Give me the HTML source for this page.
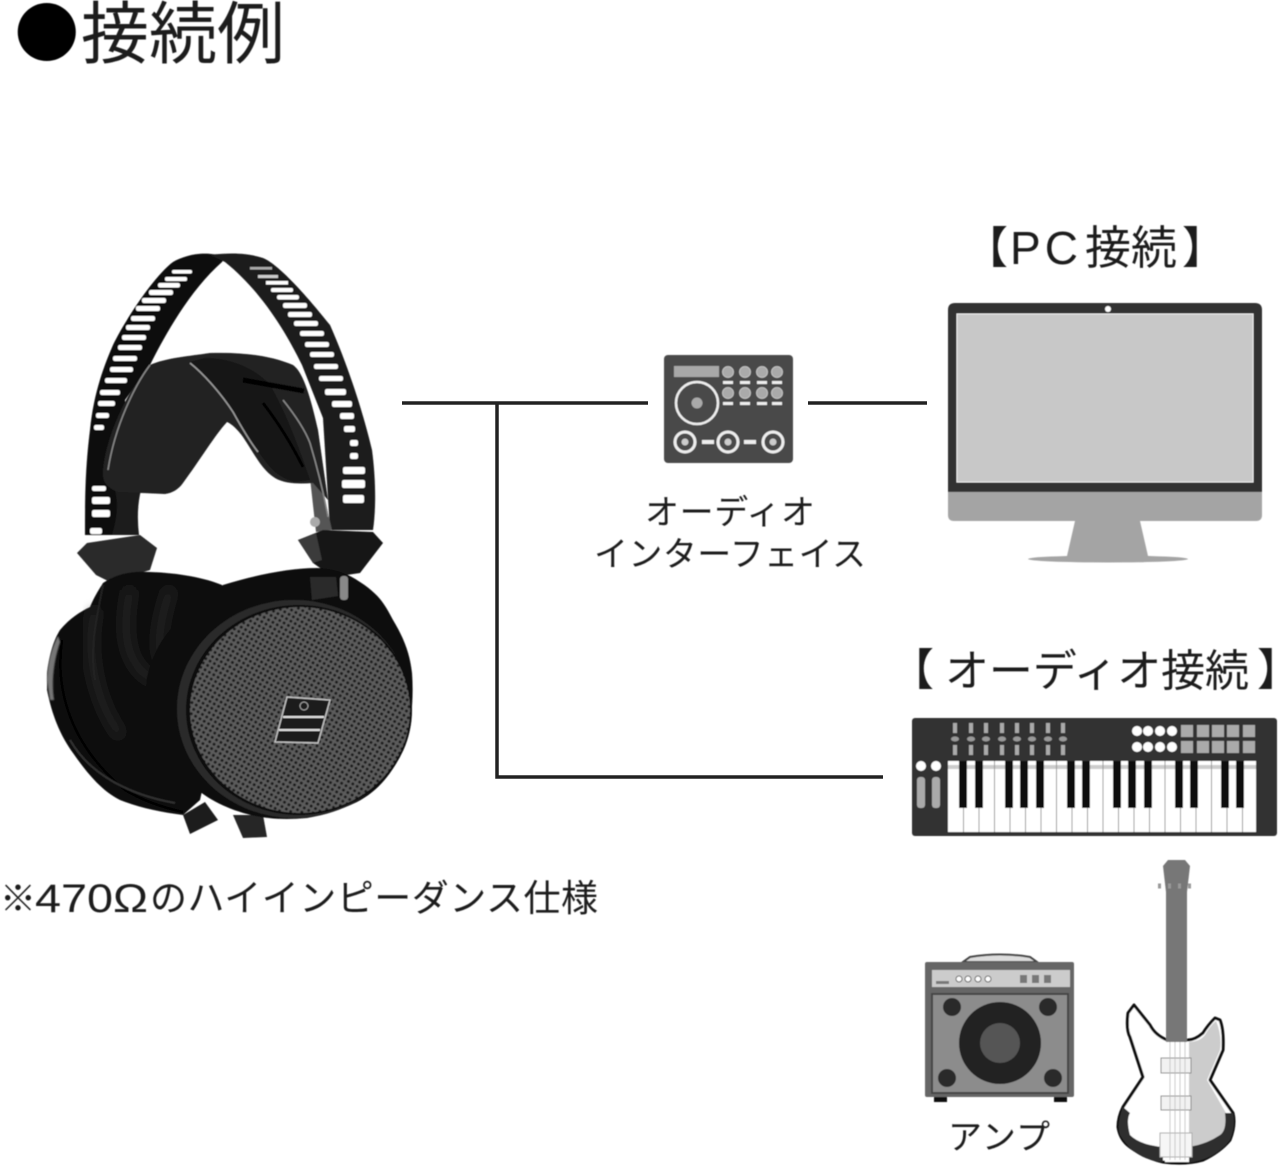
<!DOCTYPE html>
<html lang="ja"><head><meta charset="utf-8"><title>接続例</title>
<style>html,body{margin:0;padding:0;background:#fff}svg{display:block}text{font-family:"Liberation Sans","Noto Sans CJK JP",sans-serif;fill:#1e1e1e}.j{font-family:"Noto Sans CJK JP",sans-serif}</style></head>
<body>
<svg width="1280" height="1167" viewBox="0 0 1280 1167" xmlns="http://www.w3.org/2000/svg">
<defs>
<pattern id="g" width="5" height="5" patternUnits="userSpaceOnUse" patternTransform="rotate(30)"><rect width="5" height="5" fill="#5c5c5c"/><circle cx="2.500" cy="2.500" r="1.500" fill="#1c1c1c"/></pattern>
<filter id="b"><feGaussianBlur stdDeviation="0.6"/></filter>
<filter id="t"><feGaussianBlur stdDeviation="0.45"/></filter>
<filter id="s"><feGaussianBlur stdDeviation="5"/></filter>
</defs>

<g filter="url(#t)">
<text class="j" x="14.500" y="57" font-size="64.500" style="fill:#000">●</text>
<text class="j" x="81" y="58" font-size="68">接続例</text>
<text class="j" x="964" y="263" font-size="44">【</text>
<text x="1010" y="264" font-size="46" textLength="68">PC</text>
<text class="j" x="1085" y="264" font-size="46">接続</text>
<text class="j" x="1182" y="263" font-size="44">】</text>
<text class="j" x="890" y="685" font-size="44">【</text>
<text class="j" x="945" y="686" font-size="44" textLength="304">オーディオ接続</text>
<text class="j" x="1257" y="685" font-size="44">】</text>
<text class="j" x="645" y="524" font-size="34" textLength="170">オーディオ</text>
<text class="j" x="594" y="566" font-size="34" textLength="272">インターフェイス</text>
<text class="j" x="0" y="911" font-size="36">※</text>
<text x="35" y="912" font-size="40" textLength="113" lengthAdjust="spacingAndGlyphs">470Ω</text>
<text class="j" x="150" y="911" font-size="37" textLength="448">のハイインピーダンス仕様</text>
<text class="j" x="948" y="1149" font-size="34" textLength="102">アンプ</text>
</g>

<path d="M402 403H648M808 403H927M497 403V777H883" fill="none" stroke="#222" stroke-width="3.500"/>

<!-- headphones -->
<g filter="url(#b)">
<!-- band -->
<path d="M225 257C205 250 185 255 173 262C155 275 125 320 113 345C100 375 93 400 90 430C85 470 85 500 85 535L125 535L125 400L150 365C165 335 190 290 222 262Z" fill="#0c0c0c"/>
<path d="M210 255C235 252 250 254 263 258C280 265 310 300 330 325C350 370 365 420 372 450C376 480 376 510 373 530L330 530L323 418L302 365C285 330 260 290 225 262Z" fill="#1a1a1a"/>
<g fill="#fff">
<rect x="172" y="270" width="20" height="3.500" rx="1.500"/><rect x="165" y="277" width="22" height="4" rx="1.500"/><rect x="158" y="283" width="22" height="4.500" rx="2"/>
<rect x="149" y="290" width="24" height="5" rx="2"/><rect x="142" y="298" width="24" height="5" rx="2"/><rect x="136" y="306" width="24" height="5" rx="2"/>
<rect x="131" y="316" width="24" height="5" rx="2"/><rect x="126" y="325" width="24" height="5" rx="2"/><rect x="122" y="335" width="24" height="5" rx="2"/>
<rect x="118" y="345" width="24" height="5" rx="2"/><rect x="113" y="356" width="24" height="5" rx="2"/><rect x="110" y="367" width="23" height="5" rx="2"/>
<rect x="105" y="378" width="22" height="5" rx="2"/><rect x="100" y="390" width="20" height="5" rx="2"/><rect x="98" y="401" width="17" height="5" rx="2"/><rect x="96" y="413" width="13" height="5" rx="2"/><rect x="94" y="425" width="10" height="5" rx="2"/>
<rect x="92" y="486" width="14" height="5" rx="2"/><rect x="92" y="497" width="18" height="7" rx="2"/><rect x="92" y="510" width="18" height="7" rx="2"/><rect x="90" y="528" width="12" height="6" rx="2"/>
<rect x="250" y="267" width="22" height="2.500" fill="#aaa"/><rect x="258" y="275" width="20" height="3" fill="#ccc"/><rect x="266" y="281" width="22" height="3.500"/>
<rect x="271" y="288" width="22" height="4" rx="1.500"/><rect x="277" y="295" width="22" height="4.500" rx="2"/><rect x="283" y="303" width="24" height="5" rx="2"/>
<rect x="288" y="312" width="24" height="5" rx="2"/><rect x="294" y="321" width="24" height="5" rx="2"/><rect x="300" y="331" width="24" height="5" rx="2"/>
<rect x="305" y="342" width="24" height="5" rx="2"/><rect x="310" y="352" width="24" height="5" rx="2"/><rect x="314" y="364" width="24" height="5" rx="2"/>
<rect x="319" y="376" width="24" height="5" rx="2"/><rect x="325" y="389" width="21" height="6" rx="2"/><rect x="332" y="401" width="20" height="6" rx="2"/>
<rect x="340" y="413" width="14" height="6" rx="2"/><rect x="344" y="426" width="11" height="6" rx="2"/><rect x="350" y="440" width="8" height="6" rx="2"/><rect x="350" y="453" width="8" height="6" rx="2"/>
<rect x="343" y="467" width="22" height="7" rx="2"/><rect x="342" y="480" width="23" height="8" rx="2"/><rect x="343" y="495" width="21" height="8" rx="2"/>
</g>
<!-- thin right strut -->
<path d="M310 478L320 478L332 530L316 532Z" fill="#555"/>
<circle cx="315" cy="522" r="5" fill="#aaa"/>
<!-- stem -->
<path d="M115 490L141 490Q136 510 139 535L112 535Q120 510 115 490Z" fill="#1c1c1c"/>
<!-- pad -->
<path d="M150 365C165 358 190 356 210 353C240 352 270 355 293 365C303 372 310 395 318 430L328 500L313 483C300 484 285 484 275 478C262 470 255 455 243 437C238 430 232 424 227 422C215 435 200 460 183 483C178 490 172 493 165 494L118 492C105 487 102 480 103 470C105 445 120 400 150 365Z" fill="#212121"/>
<path d="M190 362C205 375 220 392 233 412C245 430 255 448 266 462C272 470 280 478 295 482L310 480C300 450 285 410 270 385C255 368 230 358 205 358Z" fill="#161616"/>
<path d="M190 363C205 375 222 395 233 412C243 430 250 442 258 452" fill="none" stroke="#999" stroke-width="1.600"/>
<path d="M150 365C135 385 115 425 108 470" fill="none" stroke="#888" stroke-width="1.500"/>
<path d="M283 400C295 415 305 430 310 443C318 470 324 495 328 517" fill="none" stroke="#888" stroke-width="1.500"/>
<path d="M263 403C280 425 293 447 303 467" fill="none" stroke="#000" stroke-width="3"/>
<path d="M243 380L304 391" stroke="#000" stroke-width="5"/>
<!-- hinges -->
<polygon points="77,553 87,543 140,535 157,548 150,570 110,582 96,575" fill="#2a2a2a"/>
<polygon points="298,540 323,530 373,532 383,543 360,573 333,577 313,563" fill="#161616"/>
<polygon points="298,540 316,533 322,560 313,563" fill="#3a3a3a"/>
<!-- left pad -->
<path d="M47 673C50 650 55 638 60 630C70 618 80 612 90 607C95 595 100 588 103 583C120 572 135 571 150 572C180 573 205 578 222 585L235 640L200 800L183 815C160 812 140 808 120 800C100 790 85 770 73 753C60 735 52 715 47 690Z" fill="#0f0f0f"/>
<path d="M47 680C48 660 52 648 58 636L60 642C54 660 51 680 54 700L50 700Z" fill="#777" filter="url(#t)"/>
<path d="M62 640C55 690 70 745 125 790C145 802 165 808 183 812" fill="none" stroke="#000" stroke-width="2.500"/>
<path d="M70 740C90 775 130 795 175 803" fill="none" stroke="#333" stroke-width="2"/>
<g filter="url(#s)" fill="none" stroke="#2a2a2a" stroke-width="7">
<path d="M95 610C85 650 95 700 120 735"/><path d="M130 590C120 640 130 670 155 680"/><path d="M170 590C160 620 155 650 165 665"/>
</g>
<path d="M103 585C95 625 90 650 95 680" fill="none" stroke="#242424" stroke-width="2"/>
<!-- plugs -->
<polygon points="183,815 205,802 218,820 190,834" fill="#1e1e1e"/>
<polygon points="233,815 263,815 267,837 243,838" fill="#262626"/>
<!-- right housing -->
<path d="M223 585C255 575 290 568 317 568C335 568 350 575 360 582C380 595 385 605 393 620C405 640 410 655 412 673C414 700 411 725 405 745C395 770 380 790 357 802C340 810 325 815 307 818C285 820 265 819 247 814C225 808 205 798 190 783C170 762 160 748 153 730C147 710 145 695 147 677C153 655 160 640 173 627C190 610 205 595 223 585Z" fill="#0c0c0c"/>
<path d="M310 577L336 577L338 596L312 600Z" fill="#2a2a2a"/>
<rect x="340" y="576" width="8" height="24" rx="3" fill="#888"/>
<ellipse cx="294" cy="709" rx="117" ry="109" fill="#2a2a2a"/>
<ellipse cx="299" cy="710" rx="113" ry="105" fill="#080808"/>
<ellipse cx="300" cy="710" rx="110" ry="103" fill="url(#g)"/>
<polygon points="287,697 330,700 318,743 275,742" fill="#1a1a1a" stroke="#c4c4c4" stroke-width="1.400"/>
<path d="M283 717H324M279 730H320" stroke="#e0e0e0" stroke-width="2"/>
<circle cx="304" cy="706" r="4" fill="none" stroke="#aaa" stroke-width="1"/>
</g>

<!-- interface -->
<g filter="url(#b)">
<rect x="664" y="355" width="129" height="108" rx="4" fill="#4a4a4a"/>
<rect x="674" y="366" width="45" height="11" fill="#a8a8a8"/>
<g fill="#aaa" stroke="#ccc" stroke-width=".8">
<circle cx="728" cy="372" r="5.500"/><circle cx="745" cy="372" r="5.500"/><circle cx="762" cy="372" r="5.500"/><circle cx="777" cy="372" r="5.500"/>
<circle cx="728" cy="393" r="5.500"/><circle cx="745" cy="393" r="5.500"/><circle cx="762" cy="393" r="5.500"/><circle cx="777" cy="393" r="5.500"/>
</g>
<g fill="#eee">
<rect x="723" y="381" width="10" height="3"/><rect x="740" y="381" width="10" height="3"/><rect x="757" y="381" width="10" height="3"/><rect x="772" y="381" width="10" height="3"/>
<rect x="723" y="402" width="10" height="3"/><rect x="740" y="402" width="10" height="3"/><rect x="757" y="402" width="10" height="3"/><rect x="772" y="402" width="10" height="3"/>
<rect x="702" y="440" width="12" height="4"/><rect x="744" y="440" width="12" height="4"/>
</g>
<circle cx="697" cy="403" r="21" fill="#4a4a4a" stroke="#eee" stroke-width="2.500"/>
<circle cx="697" cy="403" r="5.500" fill="#aaa"/>
<g fill="#4a4a4a" stroke="#eee" stroke-width="3">
<circle cx="685" cy="442" r="10"/><circle cx="728" cy="442" r="10"/><circle cx="773" cy="442" r="10"/>
</g>
<g fill="#ccc"><circle cx="685" cy="442" r="3.500"/><circle cx="728" cy="442" r="3.500"/><circle cx="773" cy="442" r="3.500"/></g>
</g>

<!-- monitor -->
<g filter="url(#b)">
<path d="M948 310q0-7 7-7h300q7 0 7 7v182h-314z" fill="#333"/>
<rect x="957" y="314" width="296" height="168" fill="#c8c8c8" stroke="#eee" stroke-width="1"/>
<circle cx="1108" cy="309" r="3" fill="#fff"/>
<path d="M948 492h314v23q0 6-6 6h-302q-6 0-6-6z" fill="#a4a4a4"/>
<polygon points="1075,521 1140,521 1148,556 1067,556" fill="#a4a4a4"/>
<ellipse cx="1108" cy="559" rx="80" ry="3.500" fill="#a4a4a4"/>
</g>

<!-- keyboard -->
<g filter="url(#b)">
<rect x="912" y="718" width="365" height="118" rx="3" fill="#333"/>
<rect x="948" y="761" width="308" height="71" fill="#fff"/>
<path d="M948 767H1256" stroke="#ccc" stroke-width="4"/>
<path d="M963.500 761V832M979 761V832M994.500 761V832M1010 761V832M1025.500 761V832M1041 761V832M1056.500 761V832M1072 761V832M1087.500 761V832M1103 761V832M1118.500 761V832M1134 761V832M1149.500 761V832M1165 761V832M1180.500 761V832M1196 761V832M1211.500 761V832M1227 761V832M1242.500 761V832" stroke="#999" stroke-width="1"/>
<g fill="#111">
<rect x="959" y="761" width="8" height="47"/><rect x="975" y="761" width="8" height="47"/>
<rect x="1005" y="761" width="8" height="47"/><rect x="1020" y="761" width="8" height="47"/><rect x="1036" y="761" width="8" height="47"/>
<rect x="1067" y="761" width="8" height="47"/><rect x="1082" y="761" width="8" height="47"/>
<rect x="1113" y="761" width="8" height="47"/><rect x="1128" y="761" width="8" height="47"/><rect x="1144" y="761" width="8" height="47"/>
<rect x="1175" y="761" width="8" height="47"/><rect x="1190" y="761" width="8" height="47"/>
<rect x="1221" y="761" width="8" height="47"/><rect x="1236" y="761" width="8" height="47"/>
</g>
<path d="M955 723V733M971 723V733M986 723V733M1002 723V733M1017 723V733M1032 723V733M1048 723V733M1063 723V733M955 745V755M971 745V755M986 745V755M1002 745V755M1017 745V755M1032 745V755M1048 745V755M1063 745V755" stroke="#aaa" stroke-width="4"/>
<g fill="#999"><ellipse cx="955" cy="739" rx="4" ry="2.500"/><ellipse cx="971" cy="739" rx="4" ry="2.500"/><ellipse cx="986" cy="739" rx="4" ry="2.500"/><ellipse cx="1002" cy="739" rx="4" ry="2.500"/><ellipse cx="1017" cy="739" rx="4" ry="2.500"/><ellipse cx="1032" cy="739" rx="4" ry="2.500"/><ellipse cx="1048" cy="739" rx="4" ry="2.500"/><ellipse cx="1063" cy="739" rx="4" ry="2.500"/></g>
<g fill="#fff">
<circle cx="1137" cy="731" r="5"/><circle cx="1148" cy="731" r="5"/><circle cx="1160" cy="731" r="5"/><circle cx="1172" cy="731" r="5"/>
<circle cx="1137" cy="747" r="5"/><circle cx="1148" cy="747" r="5"/><circle cx="1160" cy="747" r="5"/><circle cx="1172" cy="747" r="5"/>
<circle cx="921" cy="766" r="5"/><circle cx="936" cy="766" r="5"/>
</g>
<g fill="#aaa">
<rect x="1181" y="725" width="12" height="12"/><rect x="1197" y="725" width="12" height="12"/><rect x="1212" y="725" width="12" height="12"/><rect x="1227" y="725" width="12" height="12"/><rect x="1243" y="725" width="12" height="12"/>
<rect x="1181" y="741" width="12" height="12"/><rect x="1197" y="741" width="12" height="12"/><rect x="1212" y="741" width="12" height="12"/><rect x="1227" y="741" width="12" height="12"/><rect x="1243" y="741" width="12" height="12"/>
<rect x="917" y="777" width="8" height="31" rx="3"/><rect x="932" y="777" width="8" height="31" rx="3"/>
</g>
</g>

<!-- amp -->
<g filter="url(#b)">
<path d="M963 962L970 957Q1000 952 1030 957L1037 962Z" fill="#ddd" stroke="#444" stroke-width="2"/>
<rect x="925" y="962" width="149" height="135" rx="2" fill="#666"/>
<rect x="932" y="970" width="138" height="17" fill="#ccc"/>
<g fill="#fff" stroke="#666" stroke-width="1"><circle cx="959" cy="979" r="3"/><circle cx="968" cy="979" r="3"/><circle cx="978" cy="979" r="3"/><circle cx="988" cy="979" r="3"/></g>
<g fill="#777"><rect x="1020" y="975" width="7" height="8"/><rect x="1032" y="975" width="7" height="8"/><rect x="1044" y="975" width="7" height="8"/><rect x="936" y="981" width="13" height="3"/></g>
<rect x="932" y="994" width="136" height="99" fill="#8c8c8c" stroke="#444" stroke-width="2"/>
<circle cx="1000" cy="1043" r="41" fill="#222"/>
<circle cx="1000" cy="1043" r="20" fill="#555"/>
<g fill="#2a2a2a"><circle cx="952" cy="1007" r="9"/><circle cx="1048" cy="1007" r="9"/><circle cx="947" cy="1078" r="9"/><circle cx="1053" cy="1078" r="9"/></g>
<rect x="934" y="1097" width="13" height="5" fill="#111"/><rect x="1054" y="1097" width="13" height="5" fill="#111"/>
</g>

<!-- guitar -->
<g filter="url(#b)">
<path d="M1134 1005L1128 1013Q1126 1030 1130 1037L1143 1077L1123 1107Q1118 1117 1118 1127Q1120 1140 1130 1147Q1145 1158 1163 1162Q1185 1165 1203 1160Q1220 1152 1230 1140Q1236 1125 1233 1113L1210 1080L1223 1050Q1224 1030 1220 1020L1215 1018Q1208 1025 1203 1033Q1195 1040 1188 1040H1167Q1155 1035 1150 1025Z" fill="#fff" stroke="#111" stroke-width="3" stroke-linejoin="round"/>
<path d="M1187 1042Q1200 1042 1205 1035Q1210 1026 1216 1021Q1222 1035 1220 1050L1207 1080L1226 1113Q1227 1130 1220 1135Q1205 1145 1187 1147Z" fill="#ccc"/>
<path d="M1123 1107Q1116 1125 1120 1135Q1135 1160 1163 1162V1147Q1140 1145 1130 1135Q1126 1120 1130 1113ZM1187 1163Q1215 1160 1230 1140Q1236 1125 1233 1113L1225 1113Q1227 1130 1220 1135Q1205 1145 1187 1147Z" fill="#2e2e2e"/>
<rect x="1166" y="890" width="21" height="152" fill="#777"/>
<path d="M1163 866L1168 860H1185L1190 866L1187 892H1166Z" fill="#777"/>
<path d="M1158 886H1194" stroke="#999" stroke-width="5" stroke-dasharray="3 7"/>
<rect x="1165" y="1042" width="24" height="120" fill="#fff"/>
<rect x="1161" y="1058" width="30" height="15" fill="#f2f2f2" stroke="#888"/>
<rect x="1161" y="1096" width="30" height="14" fill="#f2f2f2" stroke="#888"/>
<rect x="1160" y="1133" width="32" height="24" fill="#f6f6f6" stroke="#aaa"/>
<path d="M1170 1042V1160M1175 1042V1160M1180 1042V1160M1185 1042V1160" stroke="#bbb" stroke-width=".8"/>
</g>
</svg>
</body></html>
